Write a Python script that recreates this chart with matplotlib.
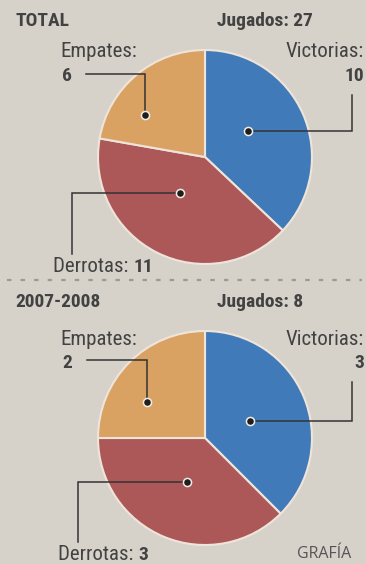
import matplotlib
matplotlib.use("Agg")
import matplotlib.pyplot as plt
import numpy as np

# ---- data -------------------------------------------------------------
categories = ["Victorias", "Derrotas", "Empates"]
total_values = [10, 11, 6]
season_values = [3, 3, 2]
panel_titles = ["TOTAL", "2007-2008"]

# ---- style ------------------------------------------------------------
BG = "#d6d2ca"
TEXT = "#424242"
LINE = "#333333"
COLORS = ["#417ab9", "#ad5858", "#d9a263"]
NARROW = ["Roboto Condensed", "DejaVu Sans"]

W, H = 366, 564
fig = plt.figure(figsize=(W / 100, H / 100), dpi=100, facecolor=BG)
ax = fig.add_axes([0, 0, 1, 1])
ax.set_facecolor(BG)

# panel layout in pixel units (y grows downward)
panels = [
    dict(values=total_values, title=panel_titles[0], top=26,
         center=(205, 157), radius=107,
         spots=[(31, 0.47), (-125, 0.41), (145, 0.68)],
         elbows=[(352, 95), (72, 254), (145, 74)],
         label_y=57, num_y=81, derr_x=53, derr_y=272, emp_x2=86),
    dict(values=season_values, title=panel_titles[1], top=307,
         center=(205, 438), radius=107,
         spots=[(21, 0.45), (-112, 0.44), (148, 0.64)],
         elbows=[(352, 382), (78, 542), (147, 360)],
         label_y=345, num_y=368, derr_x=58, derr_y=560, emp_x2=87),
]

fig.canvas.draw()
renderer = fig.canvas.get_renderer()


def two_part(x, y, regular, bold, size_r, size_b):
    t = ax.text(x, y, regular, fontsize=size_r, family=NARROW, color=TEXT,
                ha="left", va="baseline")
    bb = t.get_window_extent(renderer=renderer)
    x2 = x + bb.width * W / fig.bbox.width
    ax.text(x2, y, bold, fontsize=size_b, family=NARROW, fontweight="bold",
            color=TEXT, ha="left", va="baseline")


for p in panels:
    vals = p["values"]
    cx, cy = p["center"]
    R = p["radius"]
    # y axis is inverted, so startangle -90 points up and the pie runs clockwise
    ax.pie(vals, colors=COLORS, startangle=-90, counterclock=True,
           center=(cx, cy), radius=R,
           wedgeprops=dict(edgecolor="#efe4da", linewidth=1.5))

    # header
    ax.text(15, p["top"], p["title"], fontsize=14, fontweight="heavy",
            family=NARROW, color=TEXT, ha="left", va="baseline")
    ax.text(217, p["top"], f"Jugados: {sum(vals)}", fontsize=14,
            fontweight="heavy", family=NARROW, color=TEXT, ha="left",
            va="baseline")

    # leader anchors on each wedge
    anchors = []
    for ang, frac in p["spots"]:
        a = np.deg2rad(ang)
        anchors.append((cx + frac * R * np.cos(a), cy - frac * R * np.sin(a)))

    # Victorias: horizontal to the right, then up
    (vx, vy), (ex, ey) = anchors[0], p["elbows"][0]
    ax.plot([vx, ex, ex], [vy, vy, ey], color=LINE, lw=1.1,
            solid_joinstyle="miter", zorder=3)
    # Derrotas: horizontal to the left, then down
    (dx, dy), (ex2, ey2) = anchors[1], p["elbows"][1]
    ax.plot([dx, ex2, ex2], [dy, dy, ey2], color=LINE, lw=1.1,
            solid_joinstyle="miter", zorder=3)
    # Empates: up, then left towards the number
    (mx, my), (ex3, ey3) = anchors[2], p["elbows"][2]
    ax.plot([p["emp_x2"], ex3, ex3], [ey3, ey3, my], color=LINE, lw=1.1,
            solid_joinstyle="miter", zorder=3)

    xs = [a[0] for a in anchors]
    ys = [a[1] for a in anchors]
    ax.scatter(xs, ys, s=34, color="#1e1e1e", edgecolor="#f2ece4",
               linewidth=1.1, zorder=4)

    # labels
    ax.text(60, p["label_y"], "Empates:", fontsize=15, family=NARROW,
            color=TEXT, ha="left", va="baseline")
    ax.text(62, p["num_y"], str(vals[2]), fontsize=14, fontweight="bold",
            family=NARROW, color=TEXT, ha="left", va="baseline")
    ax.text(364, p["label_y"], "Victorias:", fontsize=15, family=NARROW,
            color=TEXT, ha="right", va="baseline")
    ax.text(364, p["num_y"], str(vals[0]), fontsize=14, fontweight="bold",
            family=NARROW, color=TEXT, ha="right", va="baseline")
    two_part(p["derr_x"], p["derr_y"], "Derrotas: ", str(vals[1]), 15, 14)

# separator between the two panels
ax.plot([7, 362], [280, 280], color="#9a9a96", lw=1.6,
        linestyle=(0, (2.0, 4.1)), solid_capstyle="butt")

ax.text(297, 558, "GRAFÍA", fontsize=11.5, family=["Open Sans", "DejaVu Sans"],
        color="#555555", ha="left", va="baseline")

ax.set_xlim(0, W)
ax.set_ylim(H, 0)
ax.set_aspect("auto")
ax.axis("off")

fig.savefig("out.png", dpi=100, facecolor=BG)
